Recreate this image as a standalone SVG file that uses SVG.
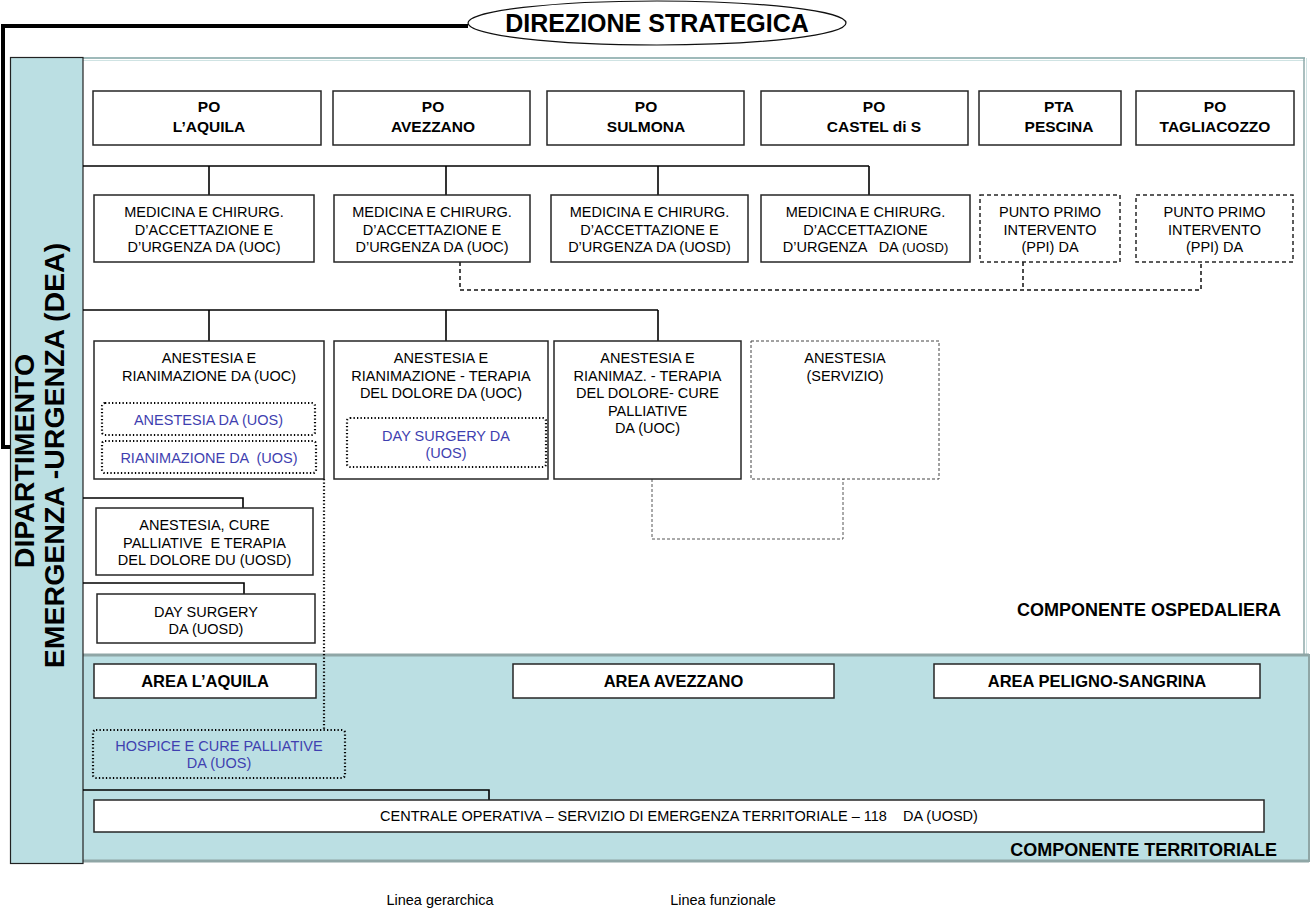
<svg xmlns="http://www.w3.org/2000/svg" width="1311" height="913" viewBox="0 0 1311 913">
<style>
text{font-family:"Liberation Sans",Arial,sans-serif;fill:#000}
.t{font-size:14.5px;text-anchor:middle}
.b{font-weight:bold;text-anchor:middle}
.po{font-size:15.5px}
.blue{fill:#3F3FB0}
.box{fill:#fff;stroke:#262626;stroke-width:1.5}
.dash{fill:#fff;stroke:#262626;stroke-width:1.5;stroke-dasharray:4 3}
.dot{fill:none;stroke:#000;stroke-width:2.2;stroke-dasharray:1.3 2.2}
.thin{fill:#fff;stroke:#444;stroke-width:1;stroke-dasharray:3 2}
.h{fill:none;stroke:#000;stroke-width:1.6}
.f{fill:none;stroke:#111;stroke-width:1.5;stroke-dasharray:4 3}
.fg{fill:none;stroke:#555;stroke-width:1;stroke-dasharray:3 2}
.band{fill:#BBDFE3}
</style>
<rect x="0" y="0" width="1311" height="913" fill="#fff"/>

<g id="areas">
  <rect x="83" y="57" width="1222" height="598" fill="#fff"/>
  <line x1="83" y1="58" x2="1305" y2="58" stroke="#7FA3A3" stroke-width="1.5"/>
  <line x1="83" y1="60.5" x2="1305" y2="60.5" stroke="#CFE3E3" stroke-width="1"/>
  <line x1="1304" y1="58" x2="1304" y2="655" stroke="#8FAAAA" stroke-width="1.5"/>
  <line x1="1306.5" y1="58" x2="1306.5" y2="655" stroke="#CFE3E3" stroke-width="1"/>
  <rect class="band" x="83" y="654" width="1226" height="208"/>
  <line x1="83" y1="655" x2="1309" y2="655" stroke="#8FA6A6" stroke-width="3"/>
  <line x1="83" y1="861" x2="1309" y2="861" stroke="#8FA6A6" stroke-width="3"/>
  <line x1="1309" y1="654" x2="1309" y2="862" stroke="#8FA6A6" stroke-width="2"/>
  <text class="b" x="1281" y="616" font-size="18" style="text-anchor:end">COMPONENTE OSPEDALIERA</text>
  <text class="b" x="1277" y="856" font-size="18" style="text-anchor:end">COMPONENTE TERRITORIALE</text>
</g>

<g id="dea">
  <rect class="band" x="10.5" y="57.5" width="72.5" height="806" stroke="#222" stroke-width="1.2"/>
  <text class="b" font-size="28.5" transform="translate(33.5,461) rotate(-90)">DIPARTIMENTO</text>
  <text class="b" font-size="28.5" transform="translate(63.5,455.5) rotate(-90)">EMERGENZA -URGENZA (DEA)</text>
</g>

<g id="connectors">
  <polyline points="468,26 3,26 3,447 10,447" fill="none" stroke="#000" stroke-width="4"/>
  <polyline class="h" points="83,166 869,166"/>
  <line class="h" x1="209" y1="166" x2="209" y2="195"/>
  <line class="h" x1="446" y1="166" x2="446" y2="195"/>
  <line class="h" x1="658" y1="166" x2="658" y2="195"/>
  <line class="h" x1="869" y1="166" x2="869" y2="195"/>
  <polyline class="h" points="83,310 658,310"/>
  <line class="h" x1="209" y1="310" x2="209" y2="341"/>
  <line class="h" x1="446" y1="310" x2="446" y2="341"/>
  <line class="h" x1="658" y1="310" x2="658" y2="341"/>
  <polyline class="h" points="83,498 243,498 243,508"/>
  <polyline class="h" points="83,583 244,583 244,594" stroke-width="2"/>
  <polyline class="h" points="83,790 489,790 489,800"/>
  <polyline class="f" points="460,262 460,290 1201,290 1201,262"/>
  <line class="f" x1="1023" y1="262" x2="1023" y2="290"/>
  <polyline class="fg" points="652,479 652,539 843,539 843,479"/>
  <line class="dot" x1="324" y1="479" x2="324" y2="730"/>
</g>

<g id="direzione">
  <ellipse cx="657" cy="23" rx="189" ry="22" fill="#fff" stroke="#111" stroke-width="1.2"/>
  <text class="b" x="657" y="32" font-size="25">DIREZIONE STRATEGICA</text>
</g>

<g id="po-aquila"><rect class="box" x="93" y="91" width="228" height="54"/>
  <text class="b po" x="209" y="112">PO</text><text class="b po" x="209" y="132">L’AQUILA</text></g>
<g id="po-avezzano"><rect class="box" x="333" y="91" width="197" height="54"/>
  <text class="b po" x="433" y="112">PO</text><text class="b po" x="433" y="132">AVEZZANO</text></g>
<g id="po-sulmona"><rect class="box" x="547" y="91" width="197" height="54"/>
  <text class="b po" x="646" y="112">PO</text><text class="b po" x="646" y="132">SULMONA</text></g>
<g id="po-castel"><rect class="box" x="761" y="91" width="207" height="54"/>
  <text class="b po" x="874" y="112">PO</text><text class="b po" x="874" y="132">CASTEL di S</text></g>
<g id="pta-pescina"><rect class="box" x="979" y="91" width="142" height="54"/>
  <text class="b po" x="1059" y="112">PTA</text><text class="b po" x="1059" y="132">PESCINA</text></g>
<g id="po-tagliacozzo"><rect class="box" x="1136" y="91" width="158" height="54"/>
  <text class="b po" x="1215" y="112">PO</text><text class="b po" x="1215" y="132">TAGLIACOZZO</text></g>

<g id="med-aquila"><rect class="box" x="94" y="195" width="220" height="67"/>
  <text class="t" x="204" y="217">MEDICINA E CHIRURG.</text><text class="t" x="204" y="234.5">D’ACCETTAZIONE E</text><text class="t" x="204" y="252">D’URGENZA DA (UOC)</text></g>
<g id="med-avezzano"><rect class="box" x="334" y="195" width="196" height="67"/>
  <text class="t" x="432" y="217">MEDICINA E CHIRURG.</text><text class="t" x="432" y="234.5">D’ACCETTAZIONE E</text><text class="t" x="432" y="252">D’URGENZA DA (UOC)</text></g>
<g id="med-sulmona"><rect class="box" x="551" y="195" width="197" height="67"/>
  <text class="t" x="649.5" y="217">MEDICINA E CHIRURG.</text><text class="t" x="649.5" y="234.5">D’ACCETTAZIONE E</text><text class="t" x="649.5" y="252">D’URGENZA DA (UOSD)</text></g>
<g id="med-castel"><rect class="box" x="761" y="195" width="209" height="67"/>
  <text class="t" x="865.5" y="217">MEDICINA E CHIRURG.</text><text class="t" x="865.5" y="234.5">D’ACCETTAZIONE</text><text class="t" x="865.5" y="252" xml:space="preserve">D’URGENZA   DA <tspan font-size="13">(UOSD)</tspan></text></g>
<g id="ppi-pescina"><rect class="dash" x="980" y="195" width="140" height="67"/>
  <text class="t" x="1050" y="217">PUNTO PRIMO</text><text class="t" x="1050" y="234.5">INTERVENTO</text><text class="t" x="1050" y="252">(PPI) DA</text></g>
<g id="ppi-tagliacozzo"><rect class="dash" x="1136" y="195" width="157" height="67"/>
  <text class="t" x="1214.5" y="217">PUNTO PRIMO</text><text class="t" x="1214.5" y="234.5">INTERVENTO</text><text class="t" x="1214.5" y="252">(PPI) DA</text></g>

<g id="anest-aquila"><rect class="box" x="94" y="341" width="230" height="138"/>
  <text class="t" x="209" y="363">ANESTESIA E</text><text class="t" x="209" y="380.5">RIANIMAZIONE DA (UOC)</text></g>
<g id="uos-anestesia"><rect class="dot" x="102" y="403" width="213" height="32" rx="3"/>
  <text class="t blue" x="208.5" y="425">ANESTESIA DA (UOS)</text></g>
<g id="uos-rianimazione"><rect class="dot" x="102" y="441" width="214" height="32" rx="3"/>
  <text class="t blue" x="209" y="463" xml:space="preserve">RIANIMAZIONE DA  (UOS)</text></g>
<g id="anest-avezzano"><rect class="box" x="334" y="341" width="214" height="138"/>
  <text class="t" x="441" y="363">ANESTESIA E</text><text class="t" x="441" y="380.5">RIANIMAZIONE - TERAPIA</text><text class="t" x="441" y="398">DEL DOLORE DA (UOC)</text></g>
<g id="uos-daysurgery"><rect class="dot" x="347" y="418" width="199" height="49" rx="3"/>
  <text class="t blue" x="446" y="441">DAY SURGERY DA</text><text class="t blue" x="446" y="458">(UOS)</text></g>
<g id="anest-sulmona"><rect class="box" x="554" y="341" width="187" height="138"/>
  <text class="t" x="647.5" y="363">ANESTESIA E</text><text class="t" x="647.5" y="380.5">RIANIMAZ. - TERAPIA</text><text class="t" x="647.5" y="398">DEL DOLORE- CURE</text><text class="t" x="647.5" y="415.5">PALLIATIVE</text><text class="t" x="647.5" y="433">DA (UOC)</text></g>
<g id="anest-servizio"><rect class="thin" x="751" y="341" width="188" height="138"/>
  <text class="t" x="845" y="363">ANESTESIA</text><text class="t" x="845" y="380.5">(SERVIZIO)</text></g>

<g id="uosd-cure"><rect class="box" x="96" y="508" width="217" height="67"/>
  <text class="t" x="204.5" y="530">ANESTESIA, CURE</text><text class="t" x="204.5" y="547.5" xml:space="preserve">PALLIATIVE  E TERAPIA</text><text class="t" x="204.5" y="565">DEL DOLORE DU (UOSD)</text></g>
<g id="uosd-daysurgery"><rect class="box" x="97" y="594" width="218" height="49"/>
  <text class="t" x="206" y="617">DAY SURGERY</text><text class="t" x="206" y="634">DA (UOSD)</text></g>

<g id="area-aquila"><rect class="box" x="94" y="664" width="222" height="34"/>
  <text class="b" font-size="16.5" x="205" y="687">AREA L’AQUILA</text></g>
<g id="area-avezzano"><rect class="box" x="513" y="664" width="321" height="34"/>
  <text class="b" font-size="16.5" x="673.5" y="687">AREA AVEZZANO</text></g>
<g id="area-peligno"><rect class="box" x="934" y="664" width="326" height="34"/>
  <text class="b" font-size="16.5" x="1097" y="687">AREA PELIGNO-SANGRINA</text></g>

<g id="hospice"><rect class="dot" x="93" y="730" width="252" height="48" rx="3" fill="#fff"/>
  <text class="t blue" x="219" y="750.5">HOSPICE E CURE PALLIATIVE</text><text class="t blue" x="219" y="768">DA (UOS)</text></g>
<g id="centrale"><rect class="box" x="94" y="800" width="1170" height="32"/>
  <text class="t" x="679" y="821" xml:space="preserve">CENTRALE OPERATIVA – SERVIZIO DI EMERGENZA TERRITORIALE – 118    DA (UOSD)</text></g>

<g id="legend">
  <text class="t" x="440" y="905">Linea gerarchica</text>
  <text class="t" x="723" y="905">Linea funzionale</text>
</g>
</svg>
